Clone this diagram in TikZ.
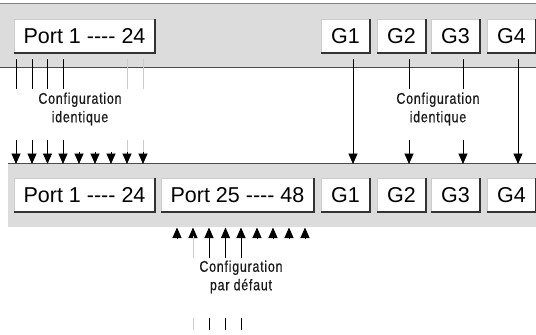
\documentclass[tikz,border=0pt]{standalone}
\usepackage{fontspec}
\setmainfont{Liberation Sans}
\newfontfamily\condfont[FakeStretch=0.8,LetterSpace=5,FakeBold=0.5]{Liberation Sans}
\usetikzlibrary{arrows.meta}
\definecolor{band}{HTML}{DCDCDC}
\begin{document}
\begin{tikzpicture}[x=1pt,y=-1pt,
  box/.style={draw=gray!40, line width=1pt, fill=white, inner sep=0pt, anchor=north west,
    minimum height=33, font=\fontsize{21.5}{22}\selectfont},
  boxshade/.style={black!80, line width=1.2pt},
  lbl/.style={font=\condfont\fontsize{15.5}{18.5}\selectfont, align=center, text=black!90},
  dl/.style={line width=0.9pt, black},
  ll/.style={line width=0.9pt, gray!40},
  dn/.style={-{Triangle[width=9pt,length=10.5pt]}},
]
\useasboundingbox (0,0) rectangle (536,335);
% bands
\fill[band] (0,3) rectangle (536,67);
\draw[gray, line width=1pt] (0,3)--(536,3);
\draw[black!70, line width=1pt] (0,67)--(536,67);
\fill[band] (8,163) rectangle (536,227);
\draw[black!70, line width=1pt] (8,163)--(536,163);
% top boxes
\node[box, minimum width=140] (tp) at (14,19) {Port 1 -{}-{}-{}- 24};
\node[box, minimum width=48] (tg1) at (321,19) {G1};
\node[box, minimum width=48] (tg2) at (377,19) {G2};
\node[box, minimum width=48] (tg3) at (431,19) {G3};
\node[box, minimum width=48] (tg4) at (487,19) {G4};
% bottom boxes
\node[box, minimum width=140] (bp1) at (14,178) {Port 1 -{}-{}-{}- 24};
\node[box, minimum width=152] (bp2) at (161,178) {Port 25 -{}-{}-{}- 48};
\node[box, minimum width=48] (bg1) at (321,178) {G1};
\node[box, minimum width=48] (bg2) at (377,178) {G2};
\node[box, minimum width=48] (bg3) at (431,178) {G3};
\node[box, minimum width=48] (bg4) at (487,178) {G4};
\foreach \n in {tp,tg1,tg2,tg3,tg4,bp1,bp2,bg1,bg2,bg3,bg4}
  \draw[boxshade] (\n.north east) -- (\n.south east) -- (\n.south west);
% labels
\node[lbl] (l1) at (80,109) {Configuration\\identique};
\node[lbl] (l2) at (438,109) {Configuration\\identique};
\node[lbl] (l3) at (241,277) {Configuration\\par défaut};
% top-left arrows
\foreach \x in {16,32,47.5,63} {
  \draw[dl] (\x,59)--(\x,89);
  \draw[dl] (\x,140)--(\x,153);
}
\foreach \x in {127,143} {
  \draw[ll] (\x,59)--(\x,89);
  \draw[ll] (\x,140)--(\x,153);
}
\foreach \x in {16,32,47.5,63,79,95,111,127,143}
  \draw[dl,dn] (\x,152)--(\x,164);
% G arrows
\draw[dl,dn] (353,59)--(353,164);
\draw[dl,dn] (518,59)--(518,164);
\foreach \x in {409,463} {
  \draw[dl] (\x,59)--(\x,89);
  \draw[dl,dn] (\x,140)--(\x,164);
}
% bottom up arrows
\foreach \x in {177,193,209,225.5,241,257,273,289,305}
  \draw[dl,dn] (\x,239)--(\x,227.5);
\draw[ll] (193,236)--(193,258);
\draw[ll] (193,318)--(193,330);
\foreach \x in {209,225.5,241} {
  \draw[dl] (\x,236)--(\x,258);
  \draw[dl] (\x,318)--(\x,330);
}
\end{tikzpicture}
\end{document}
